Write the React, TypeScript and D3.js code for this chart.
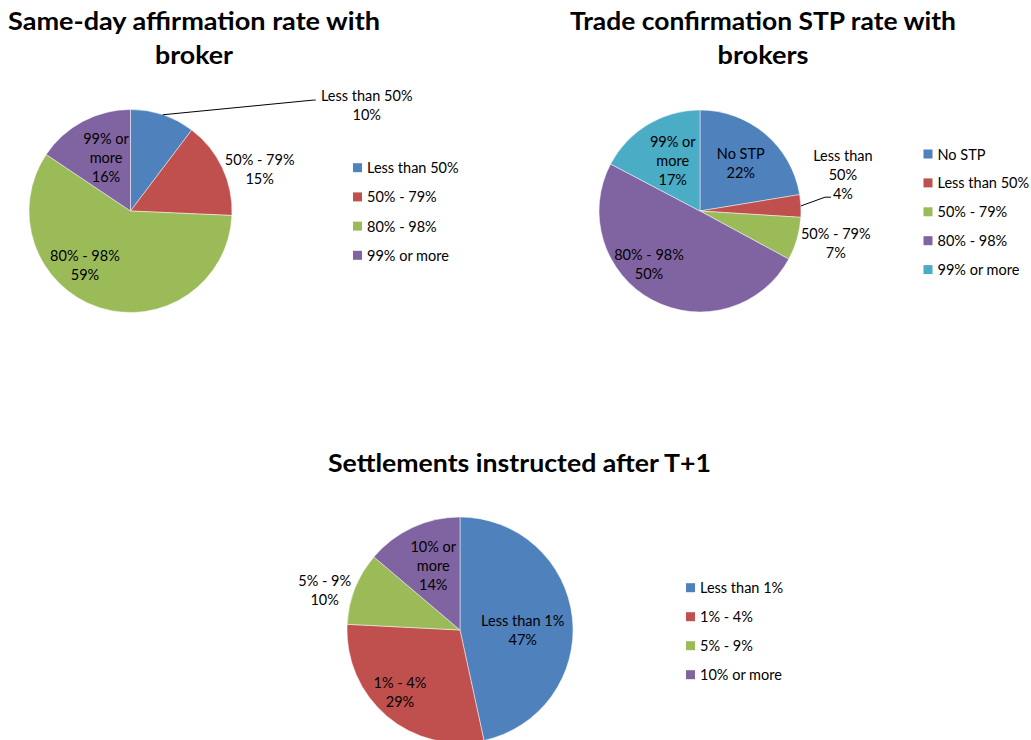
import React, { useEffect } from "react";
import * as d3 from "d3";

// ---------- DATA ----------
const affirmCategories = ["Less than 50%", "50% - 79%", "80% - 98%", "99% or more"];
const affirmValues = [10.3, 15.4, 58.7, 15.6];
const affirmLabelLines = [["Less than 50%"], ["50% - 79%"], ["80% - 98%"], ["99% or", "more"]];
const affirmTitle = ["Same-day affirmation rate with", "broker"];

const stpCategories = ["No STP", "Less than 50%", "50% - 79%", "80% - 98%", "99% or more"];
const stpValues = [22.4, 3.6, 6.9, 49.8, 17.3];
const stpLabelLines = [["No STP"], ["Less than", "50%"], ["50% - 79%"], ["80% - 98%"], ["99% or", "more"]];
const stpTitle = ["Trade confirmation STP rate with", "brokers"];

const settleCategories = ["Less than 1%", "1% - 4%", "5% - 9%", "10% or more"];
const settleValues = [46.6, 29.2, 10.4, 13.8];
const settleLabelLines = [["Less than 1%"], ["1% - 4%"], ["5% - 9%"], ["10% or", "more"]];
const settleTitle = ["Settlements instructed after T+1"];

// ---------- STYLE / LAYOUT ----------
const PALETTE = ["#4F81BD", "#C0504D", "#9BBB59", "#8064A2", "#4BACC6"];
const FONT = "Lato, 'Open Sans', sans-serif";
const TITLE_FONT = "Lato, 'Open Sans', sans-serif";

type Leader = { angle: number; factor: number; tail: number } | null;
type Layout = {
  cx: number; cy: number; r: number;
  titleX: number; titleY: number[]; titleWidths: number[];
  legendX: number; legendY: number; legendStep: number;
  labelPos: [number, number][];
  leaders: Leader[];
};

const affirmLayout: Layout = {
  cx: 130.5, cy: 211, r: 101.5,
  titleX: 194, titleY: [30, 64], titleWidths: [372, 78],
  legendX: 353, legendY: 167.7, legendStep: 29.2,
  labelPos: [[65.9, 2.55], [71.9, 1.339], [220.2, 0.695], [335.3, 0.577]],
  leaders: [{ angle: 58.8, factor: 2.11, tail: 2 }, null, null, null],
};
const stpLayout: Layout = {
  cx: 700, cy: 211, r: 101,
  titleX: 763, titleY: [30, 64], titleWidths: [386, 91],
  legendX: 923.5, legendY: 154, legendStep: 28.9,
  labelPos: [[40.6, 0.62], [75.6, 1.461], [103.1, 1.38], [224, 0.727], [331.7, 0.57]],
  leaders: [null, { angle: 83.7, factor: 1.245, tail: 6 }, null, null, null],
};
const settleLayout: Layout = {
  cx: 460, cy: 630, r: 113,
  titleX: 519.5, titleY: [472], titleWidths: [383],
  legendX: 686, legendY: 587.7, legendStep: 29,
  labelPos: [[90, 0.555], [224.2, 0.762], [286.5, 1.249], [337.5, 0.619]],
  leaders: [null, null, null, null],
};

const LINE_H = 19;
const LABEL_SIZE = 14.5;

function polar(cx: number, cy: number, R: number, deg: number): [number, number] {
  const a = (deg * Math.PI) / 180;
  return [cx + R * Math.sin(a), cy - R * Math.cos(a)];
}

function PieChart({ values, categories, labelLines, title, layout }: {
  values: number[]; categories: string[]; labelLines: string[][]; title: string[]; layout: Layout;
}) {
  const { cx, cy, r } = layout;
  const pie = d3.pie<number>().sort(null).value((d) => d).startAngle(0).endAngle(2 * Math.PI);
  const arcs = pie(values);
  const arc = d3.arc<d3.PieArcDatum<number>>().innerRadius(0).outerRadius(r);
  const color = d3.scaleOrdinal<number, string>().domain(d3.range(values.length)).range(PALETTE);

  return (
    <g>
      {title.map((t, i) => (
        <text key={i} x={layout.titleX} y={layout.titleY[i]} textAnchor="middle"
          fontFamily={TITLE_FONT} fontWeight={700} fontSize={25} fill="#000"
          textLength={layout.titleWidths[i]} lengthAdjust="spacingAndGlyphs">{t}</text>
      ))}
      <g transform={`translate(${cx},${cy})`}>
        {arcs.map((a, i) => (
          <path key={i} d={arc(a) || ""} fill={color(i)} stroke="#ffffff" strokeOpacity={0.6} strokeWidth={0.8} />
        ))}
      </g>
      {arcs.map((a, i) => {
        const ld = layout.leaders[i];
        if (!ld) return null;
        const mid = ((a.startAngle + a.endAngle) / 2) * 180 / Math.PI;
        const [x0, y0] = polar(cx, cy, r, mid);
        const [x1, y1] = polar(cx, cy, r * ld.factor, ld.angle);
        return <polyline key={"l" + i} points={`${x0},${y0} ${x1},${y1} ${x1 + ld.tail},${y1}`}
          fill="none" stroke="#000" strokeWidth={1} />;
      })}
      {arcs.map((a, i) => {
        const [ang, f] = layout.labelPos[i];
        const [lx, ly] = polar(cx, cy, r * f, ang);
        const lines = [...labelLines[i], `${Math.round(values[i])}%`];
        const n = lines.length;
        return (
          <text key={"t" + i} textAnchor="middle" fontFamily={FONT} fontSize={LABEL_SIZE} fill="#000">
            {lines.map((s, j) => (
              <tspan key={j} x={lx} y={ly + (j - (n - 1) / 2) * LINE_H} dominantBaseline="central">{s}</tspan>
            ))}
          </text>
        );
      })}
      {categories.map((c, i) => {
        const y = layout.legendY + i * layout.legendStep;
        return (
          <g key={"g" + i}>
            <rect x={layout.legendX} y={y - 4.5} width={9} height={9} fill={color(i)} />
            <text x={layout.legendX + 14} y={y} dominantBaseline="central" fontFamily={FONT}
              fontSize={LABEL_SIZE} fill="#000">{c}</text>
          </g>
        );
      })}
    </g>
  );
}

export default function App() {
  useEffect(() => {
    document.body.style.margin = "0";
  }, []);
  return (
    <svg width={1031} height={740} style={{ position: "absolute", left: 0, top: 0, display: "block", background: "#fff" }}>
      <rect width={1031} height={740} fill="#fff" />
      <PieChart values={affirmValues} categories={affirmCategories} labelLines={affirmLabelLines} title={affirmTitle} layout={affirmLayout} />
      <PieChart values={stpValues} categories={stpCategories} labelLines={stpLabelLines} title={stpTitle} layout={stpLayout} />
      <PieChart values={settleValues} categories={settleCategories} labelLines={settleLabelLines} title={settleTitle} layout={settleLayout} />
    </svg>
  );
}
